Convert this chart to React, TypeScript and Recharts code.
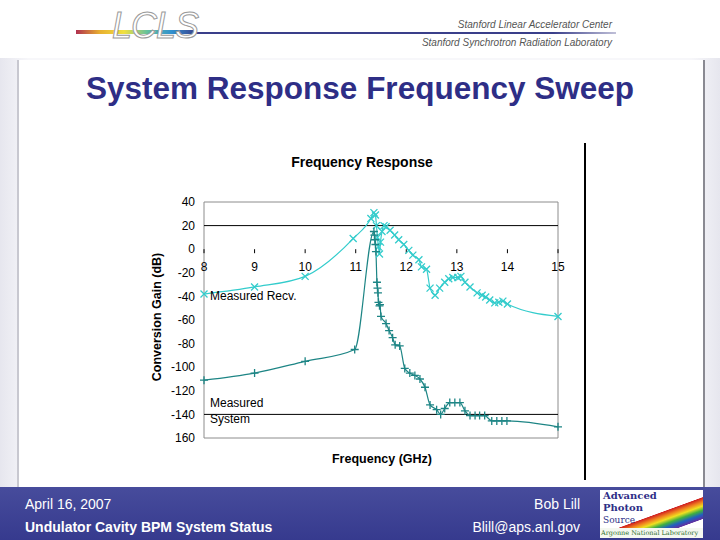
import { LineChart, Line, XAxis, YAxis, ReferenceLine, ReferenceArea, ReferenceDot } from 'recharts'

// Measured Recv. (cyan, x markers)
const recvFreq = [8, 9, 10, 10.95, 11.3, 11.36, 11.39, 11.41, 11.43, 11.45, 11.47, 11.49, 11.52, 11.56, 11.6, 11.68, 11.77, 11.85, 11.95, 12.05, 12.13, 12.25, 12.3, 12.4, 12.47, 12.57, 12.66, 12.76, 12.84, 12.92, 13.02, 13.08, 13.16, 13.26, 13.4, 13.5, 13.57, 13.65, 13.75, 13.83, 13.91, 14.0, 15]
const recvGain = [-38, -32, -23, 9, 26, 31, 29, 20, 10, 2, -4, 6, 15, 20, 19, 16, 12, 8, 4, -1, -5, -9, -15, -17, -33, -39, -33, -28, -25, -24, -24, -23, -28, -32, -37, -39, -40.5, -43, -45.5, -45, -44, -46.5, -57]

// Measured System (teal, + markers)
const sysFreq = [8, 9, 10, 10.98, 11.36, 11.37, 11.38, 11.39, 11.4, 11.42, 11.43, 11.44, 11.45, 11.47, 11.48, 11.5, 11.6, 11.66, 11.73, 11.78, 11.87, 11.97, 12.07, 12.17, 12.27, 12.37, 12.47, 12.6, 12.68, 12.76, 12.86, 12.96, 13.06, 13.16, 13.26, 13.36, 13.45, 13.55, 13.69, 13.79, 13.89, 13.99, 15]
const sysGain = [-111, -105, -95, -85, 15, 12, 8, 4, -2, -28, -33, -37, -45, -48, -47, -57, -63, -69, -75, -81, -82, -101, -105, -107, -110, -117, -132, -136, -140, -135, -130, -130, -130, -137, -141, -141, -141, -141, -145.5, -145.5, -145.5, -145.5, -150.5]

const xTicks = [8, 9, 10, 11, 12, 13, 14, 15]
const yTicks = [-160, -140, -120, -100, -80, -60, -40, -20, 0, 20, 40]

const recvData = recvFreq.map((f, i) => ({ f, g: recvGain[i] }))
const sysData = sysFreq.map((f, i) => ({ f, g: sysGain[i] }))

const FONT = '"Liberation Sans", Arial, sans-serif'
const CYAN = '#33cccc'
const TEAL = '#1d8585'

function CrossDot(props: any) {
  const { cx, cy, index } = props
  const s = 3.5
  return (
    <path key={'x' + index} d={`M${cx - s},${cy - s}L${cx + s},${cy + s}M${cx - s},${cy + s}L${cx + s},${cy - s}`} stroke={CYAN} strokeWidth={1.3} fill="none" />
  )
}

function PlusDot(props: any) {
  const { cx, cy, index } = props
  const s = 4
  return (
    <path key={'p' + index} d={`M${cx - s},${cy}L${cx + s},${cy}M${cx},${cy - s}L${cx},${cy + s}`} stroke={TEAL} strokeWidth={1.3} fill="none" />
  )
}

function XTick(props: any) {
  const { cx, cy, value } = props
  return (
    <g>
      <line x1={cx} x2={cx} y1={cy} y2={cy + 4} stroke="#000" strokeWidth={1} />
      <text x={cx} y={cy + 22} textAnchor="middle" fontSize={12} fontFamily={FONT} fill="#000">{value}</text>
    </g>
  )
}

function Note(lines: string[]) {
  return (props: any) => (
    <text x={props.cx + 6} y={props.cy + 4} fontSize={12} fontFamily={FONT} fill="#000">
      {lines.map((l, i) => (
        <tspan key={i} x={props.cx + 6} dy={i === 0 ? 0 : 16}>{l}</tspan>
      ))}
    </text>
  )
}

function Chart() {
  return (
    <LineChart width={460} height={340} margin={{ top: 62, right: 42, bottom: 42, left: 24 }}>
      <XAxis dataKey="f" type="number" domain={[8, 15]} ticks={xTicks} hide allowDuplicatedCategory={false} />
      <YAxis
        type="number"
        domain={[-160, 40]}
        ticks={yTicks}
        interval={0}
        width={40}
        tickSize={0}
        tickMargin={9}
        axisLine={false}
        tick={{ fontSize: 12, fill: '#000', fontFamily: FONT }}
        tickFormatter={(v: number) => (v === -160 ? '160' : String(v))}
      />
      <ReferenceArea x1={8} x2={15} y1={-160} y2={40} fill="none" stroke="#8c8c8c" strokeWidth={1} />
      <ReferenceLine y={20} stroke="#000" strokeWidth={1} />
      <ReferenceLine y={-140} stroke="#000" strokeWidth={1} />
      {xTicks.map((t) => (
        <ReferenceDot key={t} x={t} y={0} r={0} shape={(p: any) => <XTick {...p} value={t} />} />
      ))}
      <ReferenceDot x={8} y={-40} r={0} shape={Note(['Measured Recv.'])} />
      <ReferenceDot x={8} y={-130} r={0} shape={Note(['Measured', 'System'])} />
      <Line data={recvData} dataKey="g" type="monotoneX" stroke={CYAN} strokeWidth={1.2} dot={CrossDot} activeDot={false} isAnimationActive={false} />
      <Line data={sysData} dataKey="g" type="monotoneX" stroke={TEAL} strokeWidth={1.2} dot={PlusDot} activeDot={false} isAnimationActive={false} />
    </LineChart>
  )
}

const abs = (style: React.CSSProperties): React.CSSProperties => ({ position: 'absolute', ...style })

export default function App() {
  return (
    <div style={abs({ left: 0, top: 0, width: 720, height: 540, overflow: 'hidden', background: 'linear-gradient(90deg, #e6e6ee 0%, #f7f7fa 4%, #f7f7fa 96%, #e6e6ee 100%)', fontFamily: FONT })}>
      {/* header */}
      <div style={abs({ left: 0, top: 0, width: 720, height: 58, background: '#fff' })} />
      <div style={abs({ left: 76, top: 30, width: 120, height: 4, background: 'linear-gradient(90deg, #b03050, #e8b030, #f0e040, #60c0a0, #3090d0, #3a3f8a)' })} />
      <div style={abs({ left: 196, top: 32, width: 420, height: 2, background: 'linear-gradient(90deg, #3a3f8a, #3a3f8a 85%, #c0c0d8)' })} />
      <div style={abs({ left: 112, top: 6, fontSize: 36, fontStyle: 'italic', color: '#fff', WebkitTextStroke: '1px #9a9a9a', letterSpacing: -1, lineHeight: '40px' })}>LCLS</div>
      <div style={abs({ left: 380, width: 232, top: 19, fontSize: 10, fontStyle: 'italic', color: '#555', textAlign: 'right' })}>Stanford Linear Accelerator Center</div>
      <div style={abs({ left: 340, width: 272, top: 37, fontSize: 10, fontStyle: 'italic', color: '#555', textAlign: 'right' })}>Stanford Synchrotron Radiation Laboratory</div>

      {/* panel */}
      <div style={abs({ left: 17, top: 60, width: 684, height: 428, background: '#fff', borderLeft: '2px solid #c8c8d0', borderRight: '2px solid #8a8a92' })} />
      <div style={abs({ left: 0, width: 720, top: 69, textAlign: 'center', fontSize: 31.5, fontWeight: 'bold', color: '#2e2e86', lineHeight: '38px' })}>System Response Frequency Sweep</div>

      {/* chart */}
      <div style={abs({ left: 262, width: 200, top: 154, textAlign: 'center', fontSize: 14, fontWeight: 'bold' })}>Frequency Response</div>
      <div style={abs({ left: 282, width: 200, top: 452, textAlign: 'center', fontSize: 12.5, fontWeight: 'bold' })}>Frequency (GHz)</div>
      <div style={abs({ left: 57, width: 200, top: 310, textAlign: 'center', fontSize: 12.5, fontWeight: 'bold', transform: 'rotate(-90deg)' })}>Conversion Gain (dB)</div>
      <div style={abs({ left: 140, top: 140 })}>
        <Chart />
      </div>
      <div style={abs({ left: 584, top: 143, width: 2, height: 337, background: '#000' })} />

      {/* footer */}
      <div style={abs({ left: 0, top: 487, width: 720, height: 53, background: 'linear-gradient(180deg, #474c9c 0%, #363a8e 100%)' })} />
      <div style={abs({ left: 25, top: 496, fontSize: 14, color: '#fff' })}>April 16, 2007</div>
      <div style={abs({ left: 25, top: 519, fontSize: 14, fontWeight: 'bold', color: '#fff' })}>Undulator Cavity BPM System Status</div>
      <div style={abs({ left: 380, width: 200, top: 496, fontSize: 14, color: '#fff', textAlign: 'right' })}>Bob Lill</div>
      <div style={abs({ left: 380, width: 200, top: 519, fontSize: 14, color: '#fff', textAlign: 'right' })}>Blill@aps.anl.gov</div>
      <div style={abs({ left: 600, top: 490, width: 103, height: 48, background: '#fff', overflow: 'hidden' })}>
        <div style={abs({ left: 18, top: 6, width: 100, height: 34, background: 'linear-gradient(160deg, transparent 45%, #d02020 46%, #f08020 52%, #f0e020 58%, #40b040 64%, #2060c0 70%, #6030a0 76%, transparent 77%)' })} />
        <div style={abs({ left: 3, top: 0, fontSize: 10, fontWeight: 'bold', fontFamily: '"DejaVu Serif", serif', color: '#2e2e86', lineHeight: '12px' })}>Advanced<br />Photon<br /><span style={{ fontWeight: 'normal', fontSize: 9 }}>Source</span></div>
        <div style={abs({ left: 0, top: 38, width: 103, height: 10, background: '#f4f8f0' })} />
        <div style={abs({ left: 1, top: 39, fontSize: 6.5, fontFamily: '"DejaVu Serif", serif', color: '#2e6e2e', whiteSpace: 'nowrap' })}>Argonne National Laboratory</div>
      </div>
    </div>
  )
}
